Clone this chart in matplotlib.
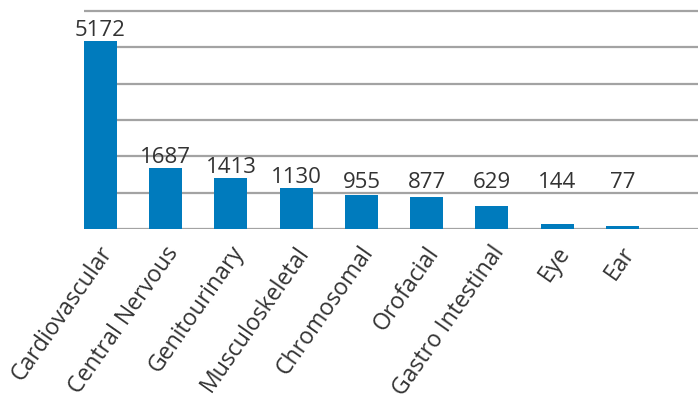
import matplotlib
matplotlib.use("Agg")
import matplotlib.pyplot as plt
import matplotlib.transforms as mtransforms

categories = ["Cardiovascular", "Central Nervous", "Genitourinary", "Musculoskeletal",
              "Chromosomal", "Orofacial", "Gastro Intestinal", "Eye", "Ear"]
counts = [5172, 1687, 1413, 1130, 955, 877, 629, 144, 77]

plt.rcParams["font.family"] = ["Open Sans", "DejaVu Sans"]

fig = plt.figure(figsize=(6.98, 4.0), dpi=100)
ax = fig.add_axes([0.1203, 0.4268, 0.8797, 0.5732])

x = range(len(categories))
ax.bar(x, counts, width=0.505, color="#007bbd", zorder=3)

ax.set_ylim(0, 6300)
ax.set_xlim(-0.253, 9.16)
ax.set_yticks([0, 1000, 2000, 3000, 4000, 5000, 6000])
ax.yaxis.grid(True, color="#a3a3a3", linewidth=1.6, zorder=0)
ax.set_axisbelow(True)
ax.tick_params(axis="y", left=False, labelleft=False)
for s in ax.spines.values():
    s.set_visible(False)

# value labels
for i, v in enumerate(counts):
    ax.text(i, max(v, 1000) + 135, str(v), ha="center", va="baseline",
            fontsize=16, color="#333333")

ax.set_xticks(list(x))
ax.set_xticklabels(categories, rotation=55, ha="right", va="top",
                   rotation_mode="anchor", fontsize=16.6, color="#333333")
ax.tick_params(axis="x", length=0, pad=9)
offset = mtransforms.ScaledTranslation(-2 / 100, 0, fig.dpi_scale_trans)
for lbl in ax.get_xticklabels():
    lbl.set_transform(lbl.get_transform() + offset)

fig.savefig("out.png", dpi=100)
